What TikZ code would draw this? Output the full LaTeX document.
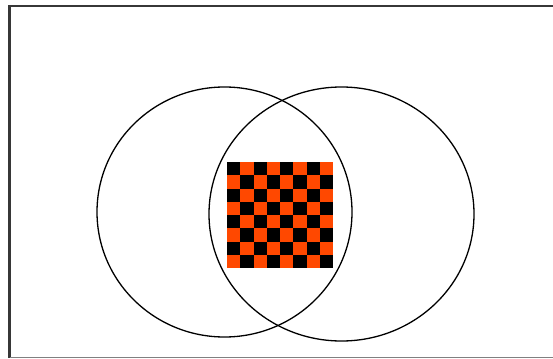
\documentclass[tikz,border=0pt]{standalone}
\definecolor{boardorange}{RGB}{255,72,0}
\definecolor{framegray}{RGB}{55,55,55}
\begin{document}
\begin{tikzpicture}[x=1pt,y=-1pt]
\useasboundingbox (0,0) rectangle (553,358);
% Window frame
\draw[framegray, line width=2.2pt] (9.5,358) -- (9.5,6) -- (553,6);
\draw[gray, line width=1pt] (9.5,357.5) -- (553,357.5);

% Checkerboard in the intersection
\fill[boardorange] (227,162) rectangle (333,268);
\foreach \i in {0,...,7}
  \foreach \j in {0,...,7}{
    \pgfmathtruncatemacro{\parity}{mod(\i+\j,2)}
    \ifnum\parity=0
      \fill[black] ({227+13.25*\i},{162+13.25*\j}) rectangle ++(13.25,13.25);
    \fi
  }

% Left set
\draw[line width=1.3pt] (224.5,212) ellipse [x radius=127.5pt, y radius=125pt];
% Right set
\draw[line width=1.3pt] (341.5,214) ellipse [x radius=132.5pt, y radius=127pt];
\end{tikzpicture}
\end{document}
